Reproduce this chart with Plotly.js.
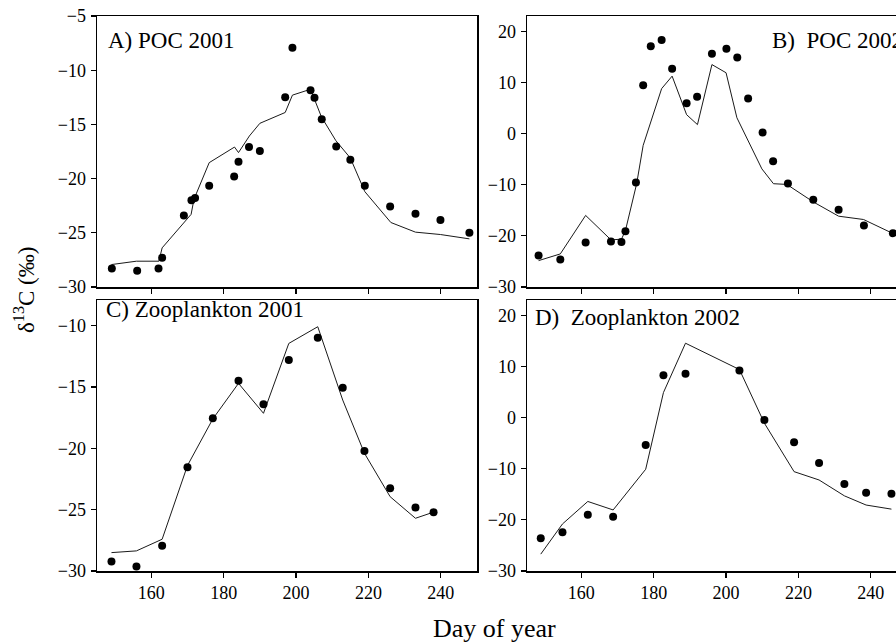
<!DOCTYPE html>
<html>
<head>
<meta charset="utf-8">
<script src="https://cdn.plot.ly/plotly-3.0.1.min.js"></script>
<style>
html,body{margin:0;padding:0;overflow:hidden;background:#fff;}
#chart{width:920px;height:642px;}
</style>
</head>
<body>
<div id="chart"></div>
<script>
// ---- Data ----
// A) POC 2001
const dayA_obs = [149.1,156.1,162.0,163.0,169.0,171.1,172.1,176.0,182.9,184.1,187.0,190.0,197.0,199.0,204.0,205.1,207.1,211.1,215.0,219.0,226.0,233.0,239.9,247.9];
const valA_obs = [-28.3,-28.5,-28.3,-27.3,-23.4,-22.0,-21.8,-20.66,-19.8,-18.44,-17.09,-17.46,-12.5,-7.94,-11.85,-12.53,-14.53,-17.05,-18.26,-20.66,-22.57,-23.25,-23.83,-25.0];
const dayA_mod = [149.0,155.9,162.1,163.0,171.0,171.8,176.0,183.0,184.1,187.1,190.0,197.0,199.0,204.0,207.0,211.0,215.0,219.0,226.2,233.0,239.9,247.9];
const valA_mod = [-27.93,-27.62,-27.62,-26.39,-23.3,-21.9,-18.53,-17.09,-17.6,-16.07,-14.9,-13.9,-12.3,-11.76,-14.3,-16.5,-18.1,-21.2,-24.05,-24.94,-25.16,-25.56];

// B) POC 2002
const dayB_obs = [148.2,154.2,161.2,168.2,171.1,172.2,175.1,177.1,179.2,182.2,185.1,189.1,192.0,196.1,200.1,203.1,206.1,210.1,213.0,217.1,224.1,231.1,238.1,246.1];
const valB_obs = [-23.86,-24.6,-21.3,-21.1,-21.2,-19.1,-9.54,9.48,17.06,18.3,12.68,5.95,7.19,15.62,16.6,14.9,6.86,0.2,-5.42,-9.74,-12.94,-14.9,-17.97,-19.48];
const dayB_mod = [148.2,154.2,161.2,168.2,171.1,172.2,175.3,177.1,182.2,185.1,189.1,192.1,196.1,200.0,203.0,209.9,213.1,216.8,224.2,231.1,238.0,246.3];
const valB_mod = [-24.84,-23.53,-16.0,-20.78,-20.65,-18.95,-9.8,-2.3,8.8,11.24,3.7,1.76,13.5,11.9,3.1,-6.9,-9.8,-9.94,-13.4,-16.15,-16.8,-19.6];

// C) Zooplankton 2001
const dayC_obs = [149.0,155.9,163.0,170.0,177.0,184.1,191.0,198.0,206.0,212.9,218.9,226.0,233.0,238.0];
const valC_obs = [-29.23,-29.64,-27.95,-21.54,-17.55,-14.48,-16.41,-12.8,-10.98,-15.05,-20.21,-23.25,-24.83,-25.2];
const dayC_mod = [149.0,155.9,163.0,170.0,177.0,184.1,191.0,198.0,206.0,212.9,218.9,226.0,233.0,238.0];
const valC_mod = [-28.5,-28.36,-27.41,-21.4,-17.6,-14.7,-17.14,-11.44,-10.08,-16.06,-20.4,-23.94,-25.7,-25.2];

// D) Zooplankton 2002
const dayD_obs = [148.8,154.8,161.8,168.8,177.8,182.7,188.8,203.7,210.6,218.8,225.7,232.7,238.7,245.7];
const valD_obs = [-23.6,-22.4,-19.0,-19.4,-5.35,8.3,8.6,9.2,-0.45,-4.8,-8.87,-13.0,-14.7,-14.9];
const dayD_mod = [148.8,154.8,161.8,168.8,177.8,182.7,188.8,203.7,210.6,218.8,225.7,232.7,238.7,245.7];
const valD_mod = [-26.7,-20.8,-16.4,-18.06,-10.1,4.9,14.55,9.4,-1.1,-10.57,-12.2,-15.3,-17.1,-17.9];

const panelLabels = ["A) POC 2001", "B)\u2002POC 2002", "C) Zooplankton 2001", "D)\u2002Zooplankton 2002"];
const xTicks = [160, 180, 200, 220, 240];
const yTicksA = [-30, -25, -20, -15, -10, -5];
const yTicksB = [-30, -20, -10, 0, 10, 20];
const yTicksC = [-30, -25, -20, -15, -10];
const yTicksD = [-30, -20, -10, 0, 10, 20];
const xLabel = "Day of year";
const yLabel = "\u03b4<sup>13</sup>C (\u2030)";

// ---- Layout geometry ----
const W = 920, H = 642;
const FONT = "'Liberation Serif', 'Times New Roman', serif";
const px = v => v / W;
const py = v => 1 - v / H;

function lineTrace(x, y, xa, ya) {
  return {x: x, y: y, xaxis: xa, yaxis: ya, type: 'scatter', mode: 'lines',
          line: {color: '#1a1a1a', width: 1}, showlegend: false, hoverinfo: 'skip'};
}
function dotTrace(x, y, xa, ya) {
  return {x: x, y: y, xaxis: xa, yaxis: ya, type: 'scatter', mode: 'markers',
          marker: {color: '#000', size: 8}, showlegend: false};
}

const traces = [
  lineTrace(dayA_mod, valA_mod, 'x', 'y'), dotTrace(dayA_obs, valA_obs, 'x', 'y'),
  lineTrace(dayB_mod, valB_mod, 'x2', 'y2'), dotTrace(dayB_obs, valB_obs, 'x2', 'y2'),
  lineTrace(dayC_mod, valC_mod, 'x3', 'y3'), dotTrace(dayC_obs, valC_obs, 'x3', 'y3'),
  lineTrace(dayD_mod, valD_mod, 'x4', 'y4'), dotTrace(dayD_obs, valD_obs, 'x4', 'y4')
];

function xAxis(domain, anchor, showLabels) {
  return {domain: domain, anchor: anchor, range: [145, 250], tickmode: 'array', tickvals: xTicks,
          showticklabels: showLabels,
          ticks: 'outside', ticklen: 5, tickwidth: 1.2, tickcolor: '#000',
          showline: true, linecolor: '#000', linewidth: 1.5, mirror: true,
          showgrid: false, zeroline: false,
          tickfont: {family: FONT, size: 18, color: '#000'}, automargin: false};
}
function yAxis(domain, anchor, range, ticks) {
  return {domain: domain, anchor: anchor, range: range, tickmode: 'array', tickvals: ticks,
          ticks: 'outside', ticklen: 5, tickwidth: 1.2, tickcolor: '#000',
          showline: true, linecolor: '#000', linewidth: 1.5, mirror: true,
          showgrid: false, zeroline: false, ticklabelstandoff: 1,
          tickfont: {family: FONT, size: 18, color: '#000'}, automargin: false};
}

const xL = [px(97), px(477)], xR = [px(527), px(907)];
const yT = [py(287), py(16)], yB = [py(571), py(300)];

const layout = {
  width: W, height: H,
  margin: {l: 0, r: 0, t: 0, b: 0},
  paper_bgcolor: '#fff', plot_bgcolor: '#fff',
  font: {family: FONT, color: '#000'},
  xaxis: xAxis(xL, 'y', false),
  yaxis: yAxis(yT, 'x', [-30, -5], yTicksA),
  xaxis2: xAxis(xR, 'y2', false),
  yaxis2: yAxis(yT, 'x2', [-30, 23], yTicksB),
  xaxis3: xAxis(xL, 'y3', true),
  yaxis3: yAxis(yB, 'x3', [-30, -7.9], yTicksC),
  xaxis4: xAxis(xR, 'y4', true),
  yaxis4: yAxis(yB, 'x4', [-30, 23], yTicksD),
  annotations: [
    {text: panelLabels[0], x: px(106), y: py(41), xref: 'paper', yref: 'paper', xanchor: 'left', yanchor: 'middle', showarrow: false, font: {family: FONT, size: 23, color: '#000'}},
    {text: panelLabels[1], x: px(770), y: py(41), xref: 'paper', yref: 'paper', xanchor: 'left', yanchor: 'middle', showarrow: false, font: {family: FONT, size: 23, color: '#000'}},
    {text: panelLabels[2], x: px(104), y: py(309), xref: 'paper', yref: 'paper', xanchor: 'left', yanchor: 'middle', showarrow: false, font: {family: FONT, size: 23, color: '#000'}},
    {text: panelLabels[3], x: px(533), y: py(317), xref: 'paper', yref: 'paper', xanchor: 'left', yanchor: 'middle', showarrow: false, font: {family: FONT, size: 23, color: '#000'}},
    {text: xLabel, x: px(494), y: py(628), xref: 'paper', yref: 'paper', xanchor: 'center', yanchor: 'middle', showarrow: false, font: {family: FONT, size: 26, color: '#000'}},
    {text: yLabel, x: px(25), y: py(290), xref: 'paper', yref: 'paper', xanchor: 'center', yanchor: 'middle', textangle: -90, showarrow: false, font: {family: FONT, size: 23, color: '#000'}}
  ]
};

Plotly.newPlot('chart', traces, layout, {staticPlot: true, displayModeBar: false});
</script>
</body>
</html>
